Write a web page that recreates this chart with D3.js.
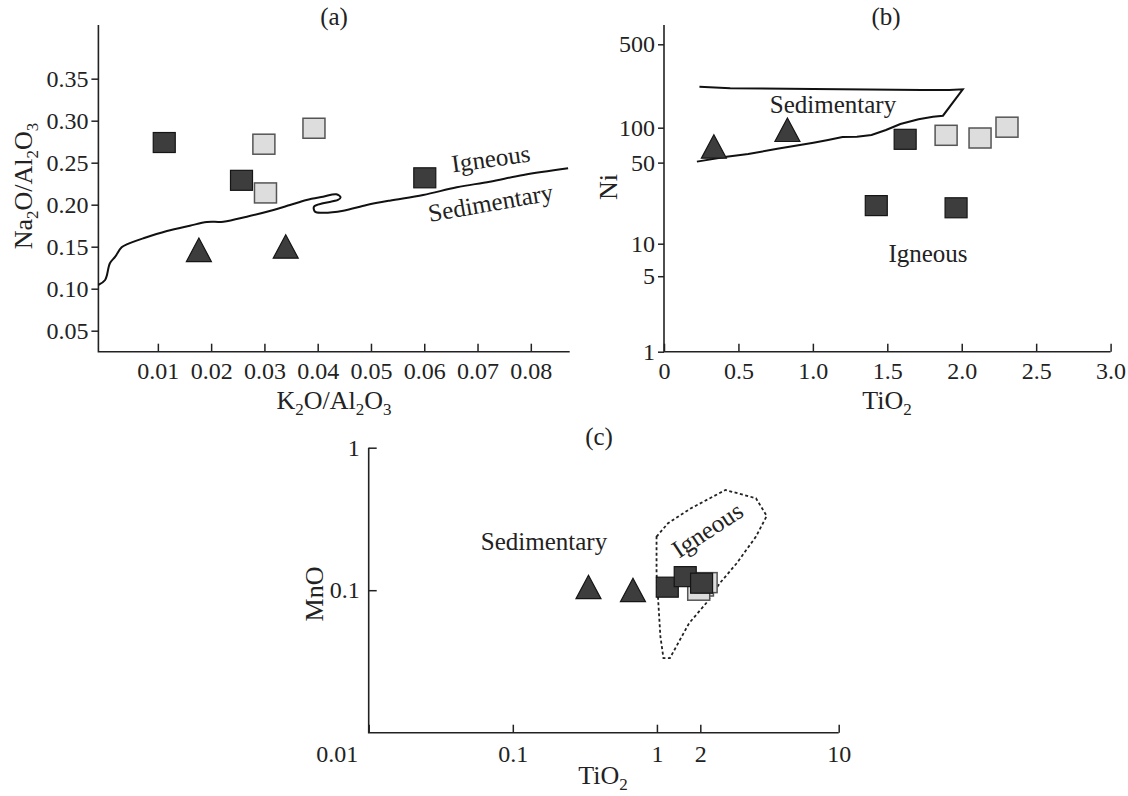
<!DOCTYPE html>
<html>
<head>
<meta charset="utf-8">
<script src="https://cdn.jsdelivr.net/npm/d3@7"></script>
<style>
  body { margin: 0; background: #fff; }
  svg text { font-family: "Liberation Serif", "Times New Roman", serif; fill: #222; }
</style>
</head>
<body>
<svg id="chart" width="1128" height="796"></svg>
<script>
// ---- data (a): Na2O/Al2O3 vs K2O/Al2O3
var aDarkSq = [[0.0112, 0.274], [0.0257, 0.229], [0.0601, 0.232]];
var aLightSq = [[0.0299, 0.272], [0.0302, 0.214], [0.0393, 0.291]];
var aTri = [[0.0177, 0.146], [0.034, 0.150]];
var aBoundary = [
  [-0.0012, 0.1044], [0.0001, 0.1104], [0.0010, 0.1302], [0.0020, 0.1381], [0.0032, 0.1493],
  [0.0044, 0.1533], [0.0073, 0.160], [0.0117, 0.1687], [0.016, 0.175], [0.0192, 0.1794],
  [0.0223, 0.1798], [0.0267, 0.1857], [0.0317, 0.1937], [0.0348, 0.1996], [0.0379, 0.2056],
  [0.0410, 0.2095], [0.0435, 0.2124], [0.0443, 0.2088], [0.0438, 0.2056], [0.0410, 0.2017],
  [0.0393, 0.1976], [0.0395, 0.1917], [0.0410, 0.1905], [0.0448, 0.1929], [0.0492, 0.1996],
  [0.0535, 0.2048], [0.0598, 0.2115], [0.0661, 0.2207], [0.0723, 0.2274], [0.0786, 0.2354],
  [0.0870, 0.2433]
];
var aXTicks = [0.01, 0.02, 0.03, 0.04, 0.05, 0.06, 0.07, 0.08];
var aYTicks = [0.05, 0.10, 0.15, 0.20, 0.25, 0.30, 0.35];

// ---- data (b): Ni vs TiO2
var bDarkSq = [[1.62, 79.4], [1.426, 21.3], [1.962, 20.4]];
var bLightSq = [[1.895, 86], [2.123, 81.5], [2.304, 101]];
var bTri = [[0.335, 68.6], [0.829, 95.5]];
var bBoundary = [
  [0.238, 220.7], [0.445, 213.9], [1.004, 211], [1.734, 207], [1.917, 207], [2.007, 209.9],
  [1.874, 126], [1.807, 123.6], [1.710, 117.6], [1.588, 107.4], [1.491, 95.5], [1.394, 86.5],
  [1.296, 83.6], [1.199, 83.1], [1.102, 78.3], [1.004, 74.2], [0.761, 65.9], [0.566, 59.3],
  [0.420, 56.2], [0.221, 51.0]
];
var bXTicks = [0, 0.5, 1.0, 1.5, 2.0, 2.5, 3.0];
var bYTicks = [1, 5, 10, 50, 100, 500];

// ---- data (c): MnO vs TiO2
var cDarkSq = [[1.18, 0.105], [1.572, 0.1245], [2.03, 0.112]];
var cLightSq = [[2.05, 0.107], [1.95, 0.100], [2.14, 0.113]];
var cTri = [[0.335, 0.105], [0.682, 0.100]];
var cIgneous = [
  [0.994, 0.2377], [1.194, 0.295], [1.725, 0.376], [2.68, 0.505], [3.82, 0.442],
  [4.33, 0.332], [3.82, 0.2377], [3.06, 0.155], [2.51, 0.112], [2.14, 0.081],
  [1.673, 0.0587], [1.231, 0.0334], [1.11, 0.0334], [1.057, 0.0473], [0.994, 0.1316]
];
var cXTicks = [0.01, 0.1, 1, 2, 10];
var cYTicks = [0.1, 1];

var svg = d3.select("#chart");

var darkFill = "#3d3d3d", darkStroke = "#151515";
var lightFill = "#dcdddc", lightStroke = "#555";
var tickFont = 24, labelFont = 25, axisFont = 26;

// text with subscripts: parts = [["Na", 0], ["2", 1], ...]
function subText(g, parts, x, y, rotate) {
  var t = g.append("text")
    .attr("font-size", axisFont)
    .attr("text-anchor", "middle")
    .attr("transform", "translate(" + x + "," + y + ")" + (rotate ? " rotate(" + rotate + ")" : ""));
  var low = false;
  parts.forEach(function (p) {
    var s = t.append("tspan").text(p[0]);
    if (p[1] && !low) { s.attr("dy", 6).attr("font-size", 17); low = true; }
    else if (p[1]) { s.attr("font-size", 17); }
    else if (low) { s.attr("dy", -6); low = false; }
  });
  return t;
}

function styleAxis(g) {
  g.selectAll("path.domain").remove();
  g.selectAll("line").attr("stroke", "#222").attr("stroke-width", 1.5);
  g.selectAll("text").attr("font-size", tickFont).attr("font-family", "Liberation Serif").attr("fill", "#222");
}

function drawMarkers(g, x, y, dark, light, tri) {
  g.selectAll(".light").data(light).enter().append("rect")
    .attr("x", function (d) { return x(d[0]) - 11; })
    .attr("y", function (d) { return y(d[1]) - 10; })
    .attr("width", 22).attr("height", 20)
    .attr("fill", lightFill).attr("stroke", lightStroke).attr("stroke-width", 1.5);
  g.selectAll(".dark").data(dark).enter().append("rect")
    .attr("x", function (d) { return x(d[0]) - 11; })
    .attr("y", function (d) { return y(d[1]) - 10; })
    .attr("width", 22).attr("height", 20)
    .attr("fill", darkFill).attr("stroke", darkStroke).attr("stroke-width", 1.2);
  g.selectAll(".tri").data(tri).enter().append("path")
    .attr("d", "M0,-12L12.5,11.5L-12.5,11.5Z")
    .attr("transform", function (d) { return "translate(" + x(d[0]) + "," + y(d[1]) + ")"; })
    .attr("fill", darkFill).attr("stroke", darkStroke).attr("stroke-width", 1.2);
}

function axisLines(g, x0, x1, y0, y1) {
  g.append("path")
    .attr("d", "M" + x0 + "," + y0 + "L" + x0 + "," + y1 + "L" + x1 + "," + y1)
    .attr("fill", "none").attr("stroke", "#222").attr("stroke-width", 1.6);
}

// ================= panel (a)
var xa = d3.scaleLinear().domain([-0.00116, 0.0873]).range([98.4, 569.7]);
var ya = d3.scaleLinear().domain([0.025, 0.4139]).range([351.7, 25]);
var ga = svg.append("g");

ga.append("g").attr("transform", "translate(0,351.7)")
  .call(d3.axisBottom(xa).tickValues(aXTicks).tickSizeInner(-8).tickSizeOuter(0).tickPadding(10)
    .tickFormat(d3.format(".2f")))
  .call(styleAxis);
ga.append("g").attr("transform", "translate(98.4,0)")
  .call(d3.axisLeft(ya).tickValues(aYTicks).tickSizeInner(7).tickSizeOuter(0).tickPadding(3)
    .tickFormat(d3.format(".2f")))
  .call(styleAxis);
axisLines(ga, 98.4, 569.7, 25, 351.7);

ga.append("path").datum(aBoundary)
  .attr("d", d3.line().x(function (d) { return xa(d[0]); }).y(function (d) { return ya(d[1]); }).curve(d3.curveCatmullRom))
  .attr("fill", "none").attr("stroke", "#111").attr("stroke-width", 2);

drawMarkers(ga, xa, ya, aDarkSq, aLightSq, aTri);

ga.append("text").attr("x", 334).attr("y", 25).attr("text-anchor", "middle").attr("font-size", labelFont).text("(a)");
ga.append("text").attr("font-size", labelFont).attr("text-anchor", "middle")
  .attr("transform", "translate(492,167) rotate(-8)").text("Igneous");
ga.append("text").attr("font-size", labelFont).attr("text-anchor", "middle")
  .attr("transform", "translate(492,211) rotate(-10)").text("Sedimentary");
subText(ga, [["Na", 0], ["2", 1], ["O/Al", 0], ["2", 1], ["O", 0], ["3", 1]], 32, 186, -90);
subText(ga, [["K", 0], ["2", 1], ["O/Al", 0], ["2", 1], ["O", 0], ["3", 1]], 334, 409, 0);

// ================= panel (b)
var xb = d3.scaleLinear().domain([0, 3]).range([664, 1110.6]);
var yb = d3.scaleLog().domain([1, 10, 100, 500]).range([351.7, 243.7, 127.7, 44.3]);
var gb = svg.append("g");

gb.append("g").attr("transform", "translate(0,351.7)")
  .call(d3.axisBottom(xb).tickValues(bXTicks).tickSizeInner(-8).tickSizeOuter(0).tickPadding(10)
    .tickFormat(function (d) { return d === 0 ? "0" : d3.format(".1f")(d); }))
  .call(styleAxis);
gb.append("g").attr("transform", "translate(664,0)")
  .call(d3.axisLeft(yb).tickValues(bYTicks).tickSizeInner(6).tickSizeOuter(0).tickPadding(3)
    .tickFormat(d3.format("d")))
  .call(styleAxis);
axisLines(gb, 664, 1110.6, 25, 351.7);

gb.append("path").datum(bBoundary)
  .attr("d", d3.line().x(function (d) { return xb(d[0]); }).y(function (d) { return yb(d[1]); }))
  .attr("fill", "none").attr("stroke", "#111").attr("stroke-width", 2);

drawMarkers(gb, xb, yb, bDarkSq, bLightSq, bTri);

gb.append("text").attr("x", 886).attr("y", 25).attr("text-anchor", "middle").attr("font-size", labelFont).text("(b)");
gb.append("text").attr("x", 833).attr("y", 113).attr("text-anchor", "middle").attr("font-size", labelFont).text("Sedimentary");
gb.append("text").attr("x", 928).attr("y", 262).attr("text-anchor", "middle").attr("font-size", labelFont).text("Igneous");
gb.append("text").attr("font-size", axisFont).attr("text-anchor", "middle")
  .attr("transform", "translate(617,187) rotate(-90)").text("Ni");
subText(gb, [["TiO", 0], ["2", 1]], 887, 409, 0);

// ================= panel (c)
var xc = d3.scaleLog().domain([0.01, 2, 10]).range([368.7, 700.3, 838.7]);
var yc = d3.scaleLog().domain([0.01, 1]).range([732.7, 447.7]);
var gc = svg.append("g");

gc.append("g").attr("transform", "translate(0,732.7)")
  .call(d3.axisBottom(xc).tickValues(cXTicks).tickSizeInner(-8).tickSizeOuter(0).tickPadding(12)
    .tickFormat(function (d) { return String(d); }))
  .call(styleAxis)
  .call(function (g) {
    g.selectAll(".tick").filter(function (d) { return d === 0.01; }).select("text").attr("dx", -32);
  });
gc.append("g").attr("transform", "translate(368.7,0)")
  .call(d3.axisLeft(yc).tickValues(cYTicks).tickSizeInner(-8).tickSizeOuter(0).tickPadding(9)
    .tickFormat(function (d) { return String(d); }))
  .call(styleAxis);
axisLines(gc, 368.7, 838.7, 447.7, 732.7);

gc.append("path").datum(cIgneous)
  .attr("d", d3.line().x(function (d) { return xc(d[0]); }).y(function (d) { return yc(d[1]); }).curve(d3.curveLinearClosed))
  .attr("fill", "none").attr("stroke", "#222").attr("stroke-width", 1.8).attr("stroke-dasharray", "3,2.5");

drawMarkers(gc, xc, yc, cDarkSq, cLightSq, cTri);

gc.append("text").attr("x", 599).attr("y", 445).attr("text-anchor", "middle").attr("font-size", labelFont).text("(c)");
gc.append("text").attr("x", 544).attr("y", 550).attr("text-anchor", "middle").attr("font-size", labelFont).text("Sedimentary");
gc.append("text").attr("font-size", labelFont).attr("text-anchor", "middle")
  .attr("transform", "translate(712,537) rotate(-33.5)").text("Igneous");
gc.append("text").attr("font-size", axisFont).attr("text-anchor", "middle")
  .attr("transform", "translate(323,594) rotate(-90)").text("MnO");
subText(gc, [["TiO", 0], ["2", 1]], 603, 784, 0);
</script>
</body>
</html>
